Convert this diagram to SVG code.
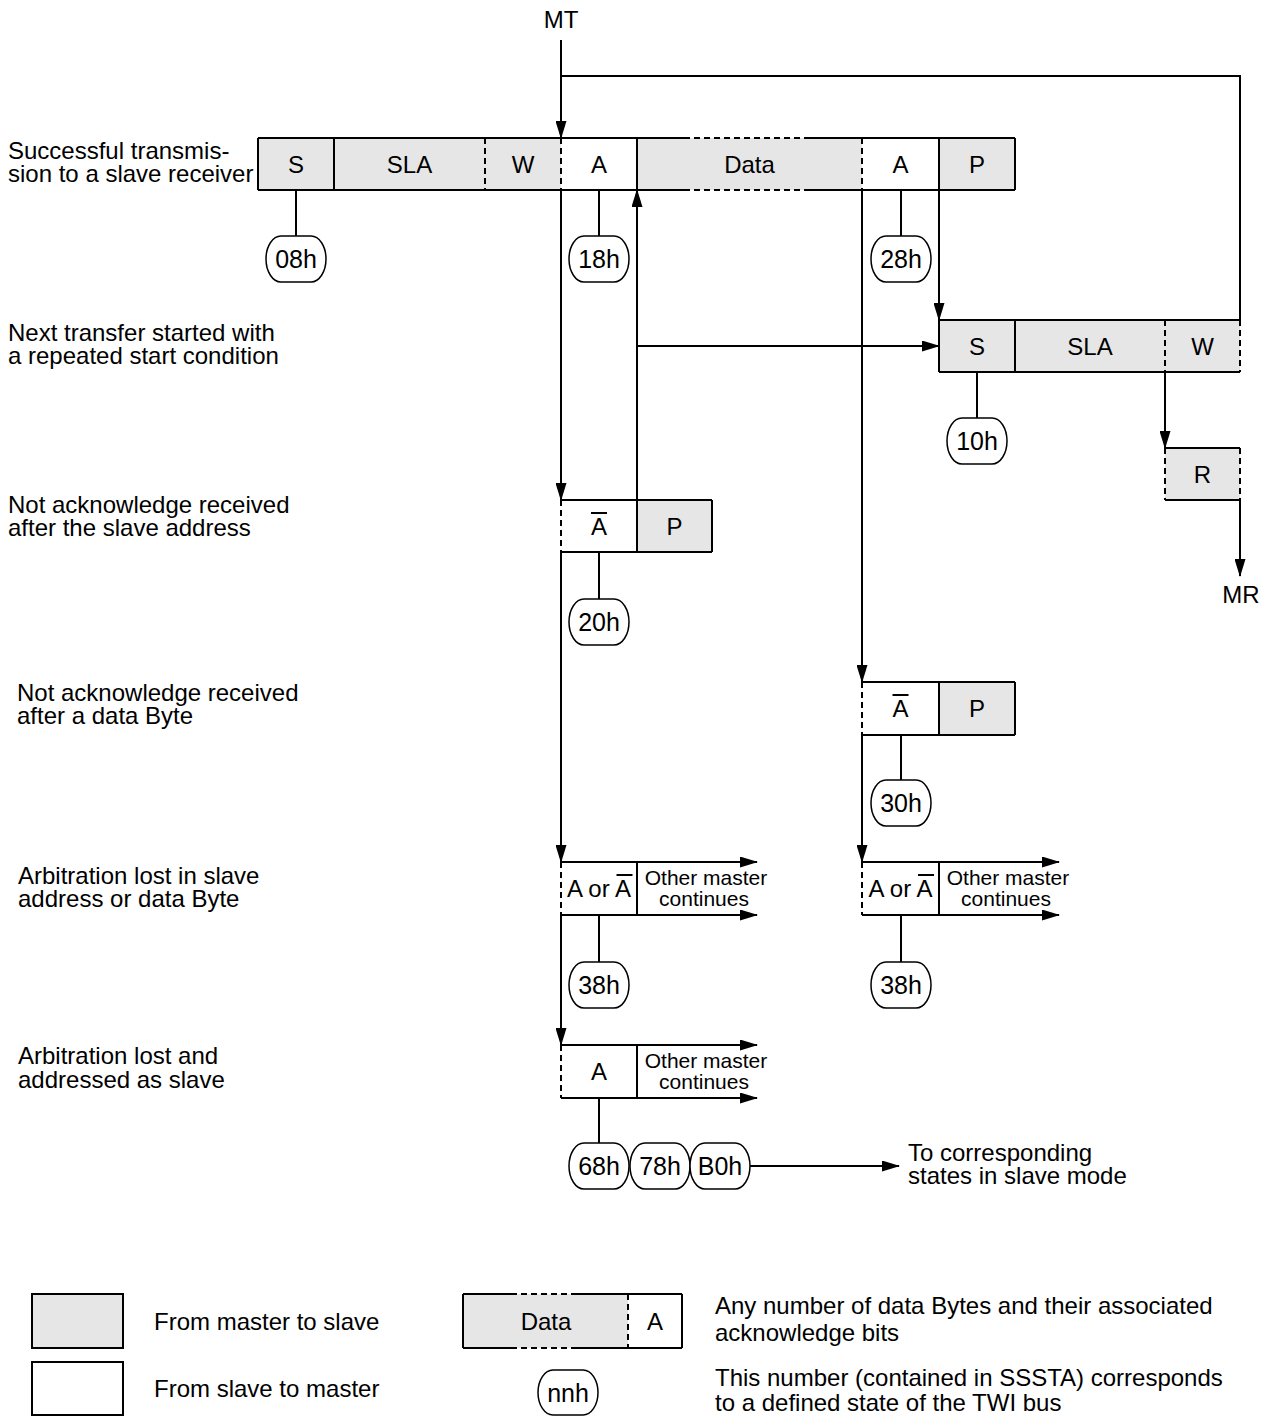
<svg xmlns="http://www.w3.org/2000/svg" width="1273" height="1417" viewBox="0 0 1273 1417">
<defs>
<marker id="ah" viewBox="0 0 18 11" refX="17" refY="5.5" markerWidth="18" markerHeight="11" markerUnits="userSpaceOnUse" orient="auto"><path d="M0,0 L18,5.5 L0,11 z" fill="#000"/></marker>
</defs>
<style>
text{font-family:"Liberation Sans",Arial,sans-serif;fill:#000}
.t{font-size:24px}
.c{font-size:24px;text-anchor:middle}
.p{font-size:25px;text-anchor:middle}
.s{font-size:21px;text-anchor:middle}
.g{fill:#e6e6e6;stroke:none}
.w{fill:#fff;stroke:none}
.b{stroke:#000;stroke-width:2;fill:none}
.d{stroke:#000;stroke-width:2;fill:none;stroke-dasharray:6 4}
.pill{fill:#fff;stroke:#000;stroke-width:1.5}
.ar{stroke:#000;stroke-width:2;fill:none;marker-end:url(#ah)}
</style>
<rect width="1273" height="1417" fill="#fff"/>

<!-- Side labels -->
<g id="labels">
<text class="c" x="561" y="28">MT</text>
<text class="c" x="1241" y="603">MR</text>
<text class="t" x="8" y="159">Successful transmis-</text>
<text class="t" x="8" y="182">sion to a slave receiver</text>
<text class="t" x="8" y="341">Next transfer started with</text>
<text class="t" x="8" y="364">a repeated start condition</text>
<text class="t" x="8" y="513">Not acknowledge received</text>
<text class="t" x="8" y="536">after the slave address</text>
<text class="t" x="17" y="701">Not acknowledge received</text>
<text class="t" x="17" y="724">after a data Byte</text>
<text class="t" x="18" y="884">Arbitration lost in slave</text>
<text class="t" x="18" y="907">address or data Byte</text>
<text class="t" x="18" y="1064">Arbitration lost and</text>
<text class="t" x="18" y="1088">addressed as slave</text>
<text class="t" x="908" y="1161">To corresponding</text>
<text class="t" x="908" y="1184">states in slave mode</text>
</g>

<!-- Row 1: successful transmission -->
<g id="row1">
<rect class="g" x="258" y="138" width="303" height="52"/>
<rect class="w" x="561" y="138" width="76" height="52"/>
<rect class="g" x="637" y="138" width="225" height="52"/>
<rect class="w" x="862" y="138" width="77" height="52"/>
<rect class="g" x="939" y="138" width="76" height="52"/>
<path class="b" d="M258,138 H684 M809,138 H1015 M258,190 H684 M809,190 H1015 M258,138 V190 M1015,138 V190 M334,138 V190 M637,138 V190 M939,138 V190"/>
<path class="d" d="M684,138 H809 M684,190 H809 M485,138 V190 M561,138 V190 M862,138 V190"/>
<text class="c" x="296" y="172.5">S</text>
<text class="c" x="409.5" y="172.5">SLA</text>
<text class="c" x="523" y="172.5">W</text>
<text class="c" x="599" y="172.5">A</text>
<text class="c" x="749.5" y="172.5">Data</text>
<text class="c" x="900.5" y="172.5">A</text>
<text class="c" x="977" y="172.5">P</text>
</g>

<!-- Row 2: repeated start -->
<g id="row2">
<rect class="g" x="939" y="320" width="301" height="52"/>
<path class="b" d="M939,320 H1240 M939,372 H1240 M939,320 V372 M1015,320 V372"/>
<path class="d" d="M1165,320 V372 M1240,320 V372"/>
<text class="c" x="977" y="354.5">S</text>
<text class="c" x="1090" y="354.5">SLA</text>
<text class="c" x="1202.5" y="354.5">W</text>
</g>

<g id="boxR">
<rect class="g" x="1165" y="448" width="75" height="52"/>
<path class="b" d="M1165,448 H1240 M1165,500 H1240"/>
<path class="d" d="M1165,448 V500 M1240,448 V500"/>
<text class="c" x="1202.5" y="482.5">R</text>
</g>

<!-- Not acknowledge after SLA -->
<g id="nack1">
<rect class="w" x="561" y="500" width="76" height="52"/>
<rect class="g" x="637" y="500" width="75" height="52"/>
<path class="b" d="M561,500 H712 M561,552 H712 M637,500 V552 M712,500 V552"/>
<path class="d" d="M561,500 V552"/>
<text class="c" x="599" y="535">A</text>
<path class="b" d="M591,513 H607"/>
<text class="c" x="674.5" y="535">P</text>
</g>

<!-- Not acknowledge after data -->
<g id="nack2">
<rect class="w" x="862" y="682" width="77" height="53"/>
<rect class="g" x="939" y="682" width="76" height="53"/>
<path class="b" d="M862,682 H1015 M862,735 H1015 M939,682 V735 M1015,682 V735"/>
<path class="d" d="M862,682 V735"/>
<text class="c" x="900.5" y="717">A</text>
<path class="b" d="M892.5,695 H908.5"/>
<text class="c" x="977" y="717">P</text>
</g>

<!-- Arbitration lost (left) -->
<g id="arb1">
<path class="d" d="M561,862 V915"/>
<path class="b" d="M637,862 V915"/>
<text class="c" x="599" y="897">A or A</text>
<path class="b" d="M616.5,875 H632.5"/>
<text class="s" x="706" y="885">Other master</text>
<text class="s" x="704" y="906">continues</text>
</g>

<!-- Arbitration lost (right) -->
<g id="arb2">
<path class="d" d="M862,862 V915"/>
<path class="b" d="M939,862 V915"/>
<text class="c" x="900.5" y="897">A or A</text>
<path class="b" d="M918,875 H934"/>
<text class="s" x="1008" y="885">Other master</text>
<text class="s" x="1006" y="906">continues</text>
</g>

<!-- Arbitration lost, addressed as slave -->
<g id="arb3">
<path class="d" d="M561,1045 V1098"/>
<path class="b" d="M637,1045 V1098"/>
<text class="c" x="599" y="1080">A</text>
<text class="s" x="706" y="1068">Other master</text>
<text class="s" x="704" y="1089">continues</text>
</g>

<!-- Status code pills -->
<g id="s08h"><rect class="pill" x="266" y="236" width="60" height="46" rx="15" ry="23"/><text class="p" x="296" y="268">08h</text></g>
<g id="s18h"><rect class="pill" x="569" y="236" width="60" height="46" rx="15" ry="23"/><text class="p" x="599" y="268">18h</text></g>
<g id="s28h"><rect class="pill" x="871" y="236" width="60" height="46" rx="15" ry="23"/><text class="p" x="901" y="268">28h</text></g>
<g id="s10h"><rect class="pill" x="947" y="418" width="60" height="46" rx="15" ry="23"/><text class="p" x="977" y="450">10h</text></g>
<g id="s20h"><rect class="pill" x="569" y="599" width="60" height="46" rx="15" ry="23"/><text class="p" x="599" y="631">20h</text></g>
<g id="s30h"><rect class="pill" x="871" y="780" width="60" height="46" rx="15" ry="23"/><text class="p" x="901" y="812">30h</text></g>
<g id="s38hL"><rect class="pill" x="569" y="962" width="60" height="46" rx="15" ry="23"/><text class="p" x="599" y="994">38h</text></g>
<g id="s38hR"><rect class="pill" x="871" y="962" width="60" height="46" rx="15" ry="23"/><text class="p" x="901" y="994">38h</text></g>
<g id="s68h"><rect class="pill" x="569" y="1143" width="60" height="46" rx="15" ry="23"/><text class="p" x="599" y="1175">68h</text></g>
<g id="s78h"><rect class="pill" x="630" y="1143" width="60" height="46" rx="15" ry="23"/><text class="p" x="660" y="1175">78h</text></g>
<g id="sB0h"><rect class="pill" x="690" y="1143" width="60" height="46" rx="15" ry="23"/><text class="p" x="720" y="1175">B0h</text></g>

<!-- Connectors -->
<g id="connectors">
<path class="ar" d="M561,40 V138"/>
<path class="b" d="M561,76 H1240 V320"/>
<path class="ar" d="M561,190 V500"/>
<path class="ar" d="M561,552 V862"/>
<path class="ar" d="M561,915 V1045"/>
<path class="ar" d="M637,500 V190"/>
<path class="ar" d="M637,346 H939"/>
<path class="ar" d="M862,190 V682"/>
<path class="ar" d="M862,735 V862"/>
<path class="ar" d="M939,190 V320"/>
<path class="ar" d="M1165,372 V448"/>
<path class="ar" d="M1240,500 V576"/>
<path class="ar" d="M561,862 H757"/>
<path class="ar" d="M561,915 H757"/>
<path class="ar" d="M862,862 H1059"/>
<path class="ar" d="M862,915 H1059"/>
<path class="ar" d="M561,1045 H757"/>
<path class="ar" d="M561,1098 H757"/>
<path class="ar" d="M750,1166 H899"/>
<path class="b" d="M296,190 V236 M599,190 V236 M901,190 V236 M977,372 V418 M599,552 V599 M901,735 V780 M599,915 V962 M901,915 V962 M599,1098 V1143"/>
</g>

<!-- Legend -->
<g id="legend-master">
<rect x="32" y="1294" width="91" height="54" fill="#e6e6e6" stroke="#000" stroke-width="2"/>
<text class="t" x="154" y="1330">From master to slave</text>
</g>
<g id="legend-slave">
<rect x="32" y="1362" width="91" height="53" fill="#fff" stroke="#000" stroke-width="2"/>
<text class="t" x="154" y="1397">From slave to master</text>
</g>
<g id="legend-data">
<rect class="g" x="463" y="1294" width="165" height="54"/>
<rect class="w" x="628" y="1294" width="54" height="54"/>
<path class="b" d="M463,1294 H511 M573,1294 H682 M463,1348 H511 M573,1348 H682 M463,1294 V1348 M682,1294 V1348"/>
<path class="d" d="M511,1294 H573 M511,1348 H573 M628,1294 V1348"/>
<text class="c" x="546" y="1330">Data</text>
<text class="c" x="655" y="1330">A</text>
<text class="t" x="715" y="1314">Any number of data Bytes and their associated</text>
<text class="t" x="715" y="1341">acknowledge bits</text>
</g>
<g id="legend-nnh">
<rect class="pill" x="538" y="1370" width="60" height="45" rx="15" ry="22.5"/>
<text class="p" x="568" y="1402">nnh</text>
<text class="t" x="715" y="1386">This number (contained in SSSTA) corresponds</text>
<text class="t" x="715" y="1411">to a defined state of the TWI bus</text>
</g>
</svg>
